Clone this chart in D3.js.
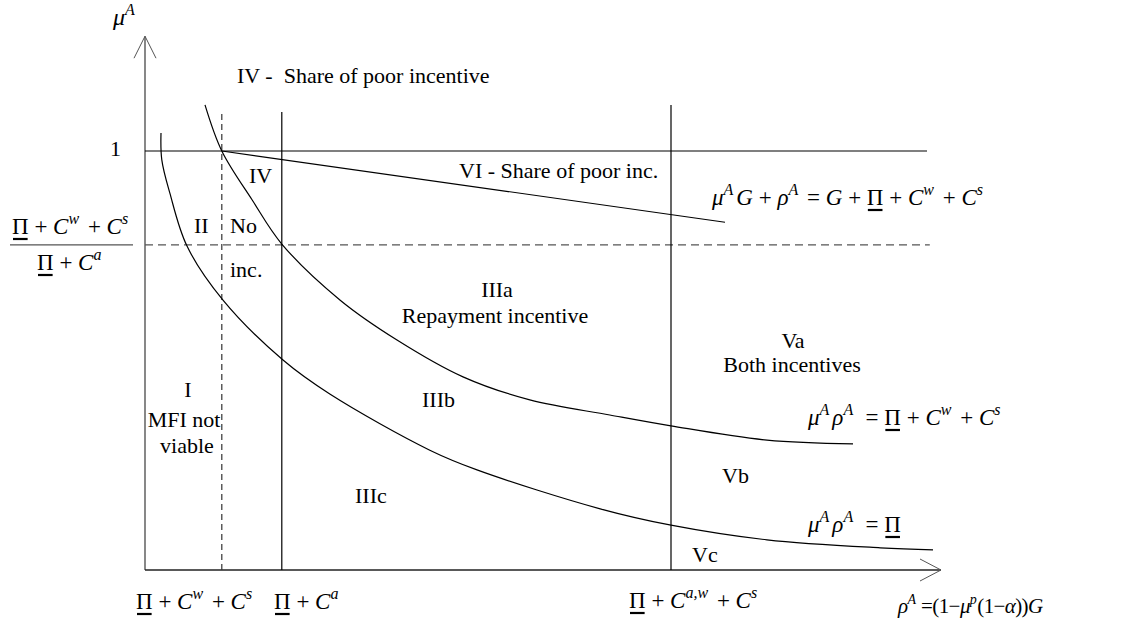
<!DOCTYPE html>
<html><head><meta charset="utf-8">
<script src="https://cdn.jsdelivr.net/npm/d3@7"></script>
<style>
body{margin:0;background:#fff}
svg text{font-family:"Liberation Serif","Times New Roman",serif;white-space:pre;fill:#000}
</style>
</head><body><svg id="c" width="1133" height="625"></svg>
<script>
// ---------- data (ρ^A on x in arbitrary units 0..100, μ^A on y) ----------
const upperCurve = [ // μ^A ρ^A = Π + C^w + C^s
  [7.5,1.110],[9.6,1.0],[13.4,0.883],[17.1,0.778],[24.4,0.644],[31.5,0.549],
  [39.75,0.461],[48.1,0.406],[58.1,0.370],[65.75,0.344],[77.75,0.310],[88.5,0.301]];
const lowerCurve = [ // μ^A ρ^A = Π
  [2.0,1.043],[2.1,0.979],[3.1,0.900],[5.25,0.773],[9.75,0.644],[17.25,0.501],
  [23.1,0.420],[35.6,0.286],[41.5,0.239],[56.9,0.146],[65.75,0.107],[77.75,0.072],
  [91.9,0.053],[98.5,0.048]];
const poorLine = [[9.6,1.0],[72.5,0.83]]; // μ^A G + ρ^A = G + Π + C^w + C^s
const muOne = 1, muStar = 0.776;
const muOneEnd = 97.75, muStarEnd = 98.1;
const vLines = [ {x:9.6, top:1.093, dashed:true}, {x:17.1, top:1.093}, {x:65.75, top:1.11} ];
const axisMax = {x:99.5, y:1.274};

const regionLabels = [
  {t:"IV -  Share of poor incentive", x:237, y:83},
  {t:"1", x:110, y:156},
  {t:"II", x:194, y:233},
  {t:"No", x:230, y:233},
  {t:"inc.", x:230, y:277},
  {t:"IV", x:249, y:183},
  {t:"VI - Share of poor inc.", x:459, y:178},
  {t:"IIIa", x:497, y:297, c:1},
  {t:"Repayment incentive", x:495, y:323, c:1},
  {t:"Va", x:793, y:348, c:1},
  {t:"Both incentives", x:792, y:372, c:1},
  {t:"IIIb", x:422, y:407},
  {t:"I", x:188, y:397, c:1},
  {t:"MFI not", x:184, y:427, c:1},
  {t:"viable", x:187, y:453, c:1},
  {t:"IIIc", x:355, y:503},
  {t:"Vb", x:722, y:483},
  {t:"Vc", x:692, y:562}
];

// ---------- drawing ----------
const svg = d3.select("#c");
const x = d3.scaleLinear([0,100],[145,945]);
const y = d3.scaleLinear([0,1],[570,151]);
const line = d3.line().x(d=>x(d[0])).y(d=>y(d[1]));
const curve = d3.line().x(d=>x(d[0])).y(d=>y(d[1])).curve(d3.curveCatmullRom.alpha(0.5));

// axes
svg.append("line").attr("x1",x(0)).attr("y1",y(0)).attr("x2",x(0)).attr("y2",y(axisMax.y))
  .attr("stroke","#555").attr("stroke-width",1.4);
svg.append("path").attr("d",`M${x(0)-11},${y(axisMax.y)+22}L${x(0)},${y(axisMax.y)}L${x(0)+11},${y(axisMax.y)+22}`)
  .attr("fill","none").attr("stroke","#555").attr("stroke-width",1);
svg.append("line").attr("x1",x(0)).attr("y1",y(0)).attr("x2",x(axisMax.x)).attr("y2",y(0))
  .attr("stroke","#222").attr("stroke-width",1.3);
svg.append("path").attr("d",`M${x(axisMax.x)-21},${y(0)-11}L${x(axisMax.x)},${y(0)}L${x(axisMax.x)-21},${y(0)+11}`)
  .attr("fill","none").attr("stroke","#555").attr("stroke-width",1);

// horizontal lines
svg.append("line").attr("x1",x(0)).attr("x2",x(muOneEnd)).attr("y1",y(muOne)).attr("y2",y(muOne))
  .attr("stroke","#000").attr("stroke-width",1.2);
svg.append("line").attr("x1",x(0)).attr("x2",x(muStarEnd)).attr("y1",y(muStar)).attr("y2",y(muStar))
  .attr("stroke","#555").attr("stroke-width",1.3).attr("stroke-dasharray","8,5");

// vertical lines
svg.selectAll(".vl").data(vLines).join("line")
  .attr("x1",d=>x(d.x)).attr("x2",d=>x(d.x)).attr("y1",y(0)).attr("y2",d=>y(d.top))
  .attr("stroke",d=>d.dashed?"#333":"#000").attr("stroke-width",1.2)
  .attr("stroke-dasharray",d=>d.dashed?"6,4":null);

// curves
svg.append("path").attr("d",curve(upperCurve)).attr("fill","none").attr("stroke","#000").attr("stroke-width",1.2);
svg.append("path").attr("d",curve(lowerCurve)).attr("fill","none").attr("stroke","#000").attr("stroke-width",1.2);
svg.append("path").attr("d",line(poorLine)).attr("fill","none").attr("stroke","#000").attr("stroke-width",1.2);

// region labels
svg.selectAll(".rl").data(regionLabels).join("text")
  .attr("x",d=>d.x).attr("y",d=>d.y).attr("font-size",22)
  .attr("text-anchor",d=>d.c?"middle":"start").text(d=>d.t);

// math text builder
function math(px, py, parts, size, supGap, ls){
  size = size||23; supGap = (supGap==null)?3:supGap;
  const t = svg.append("text").attr("x",px).attr("y",py).attr("font-size",size);
  if (ls) t.attr("letter-spacing",ls);
  let idx=0, shifted=false; const uls=[];
  parts.forEach(p=>{
    if (typeof p==="string") p={t:p};
    const ts=t.append("tspan").text(p.t);
    if (p.i) ts.attr("font-style","italic");
    let dy=0, dx=p.dx||0;
    if (p.s && !shifted){dy=-Math.round(size*0.42); shifted=true;}
    else if(!p.s && shifted){dy=Math.round(size*0.42); shifted=false; dx+=supGap;}
    if (dy) ts.attr("dy",dy);
    if (dx) ts.attr("dx",dx);
    if (p.s) ts.attr("font-size",Math.round(size*0.68));
    if (p.u) uls.push(idx);
    idx+=p.t.length;
  });
  uls.forEach(i=>{
    const e=t.node().getExtentOfChar(i);
    svg.append("line").attr("x1",e.x+1).attr("x2",e.x+e.width-1)
      .attr("y1",py+5).attr("y2",py+5).attr("stroke","#000").attr("stroke-width",2.2);
  });
  return t;
}
const PI={t:"Π",u:1}, C={t:"C",i:1};
const sup=s=>({t:s,i:1,s:1});

math(113,25,[{t:"μ",i:1},sup("A")],24);
// left fraction
math(12,234,[PI," + ",C,sup("w")," + ",C,sup("s")]);
svg.append("line").attr("x1",10).attr("x2",133).attr("y1",y(muStar)).attr("y2",y(muStar))
  .attr("stroke","#555").attr("stroke-width",1.3);
math(37,270,[PI," + ",C,sup("a")]);
// right equations
math(712,205,[{t:"μ",i:1},sup("A"),{t:"G",i:1}," + ",{t:"ρ",i:1},sup("A")," = ",{t:"G",i:1}," + ",PI," + ",C,sup("w")," + ",C,sup("s")]);
math(808,425,[{t:"μ",i:1},sup("A"),{t:"ρ",i:1},sup("A ")," = ",PI," + ",C,sup("w")," + ",C,sup("s")]);
math(808,532,[{t:"μ",i:1},sup("A"),{t:"ρ",i:1},sup("A ")," = ",PI]);
// x labels
math(136,609,[PI," + ",C,sup("w")," + ",C,sup("s")]);
math(274,609,[PI," + ",C,sup("a")]);
math(629,608,[PI," + ",C,sup("a,w")," + ",C,sup("s")]);
math(898,613,[{t:"ρ",i:1},sup("A")," =(1−",{t:"μ",i:1},sup("p"),"(1−",{t:"α",i:1},"))",{t:"G",i:1}], 21, 1, -0.6);
</script></body></html>
